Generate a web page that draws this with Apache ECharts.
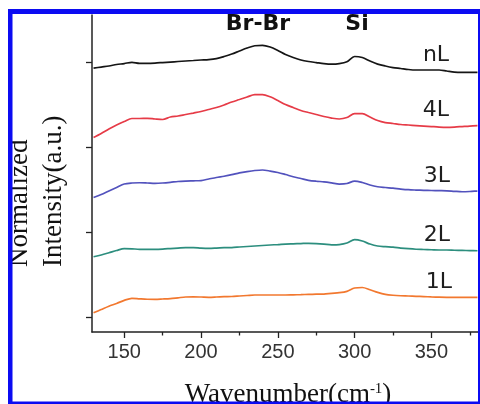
<!DOCTYPE html>
<html>
<head>
<meta charset="utf-8">
<script src="https://cdn.jsdelivr.net/npm/echarts@6/dist/echarts.min.js"></script>
<style>
  html, body { margin: 0; padding: 0; background: #ffffff; }
  #chart { width: 480px; height: 404px; }
</style>
</head>
<body>
<div id="chart"></div>
<script>
// Raman shift axis (cm^-1), shared by every spectrum
const wavenumbers = [
  130, 135, 140, 145, 150, 155, 160, 165, 170, 175,
  180, 185, 190, 195, 200, 205, 210, 215, 220, 225,
  230, 235, 240, 245, 250, 255, 260, 265, 270, 275,
  280, 285, 290, 295, 300, 305, 310, 315, 320, 325,
  330, 335, 340, 345, 350, 355, 360, 365, 370, 375, 380
];

// Normalized intensities, stacked with an offset per layer count
const spectrumNL = [
  2.935, 2.948, 2.960, 2.978, 2.989, 3.004, 2.992, 2.992, 2.995, 3.001,
  3.007, 3.013, 3.019, 3.025, 3.031, 3.036, 3.048, 3.072, 3.101, 3.137,
  3.172, 3.199, 3.204, 3.184, 3.143, 3.095, 3.060, 3.031, 3.013, 3.001,
  2.989, 2.983, 2.989, 3.011, 3.072, 3.060, 3.019, 2.983, 2.960, 2.942,
  2.931, 2.919, 2.913, 2.913, 2.913, 2.913, 2.901, 2.889, 2.886, 2.886, 2.886
];
const spectrum4L = [
  2.118, 2.165, 2.218, 2.265, 2.306, 2.342, 2.342, 2.344, 2.336, 2.330,
  2.359, 2.371, 2.389, 2.406, 2.424, 2.448, 2.471, 2.501, 2.536, 2.565,
  2.595, 2.624, 2.624, 2.598, 2.554, 2.506, 2.471, 2.436, 2.412, 2.389,
  2.365, 2.347, 2.336, 2.353, 2.400, 2.400, 2.359, 2.318, 2.294, 2.283,
  2.271, 2.265, 2.259, 2.253, 2.247, 2.241, 2.238, 2.241, 2.247, 2.253, 2.257
];
const spectrum3L = [
  1.411, 1.446, 1.488, 1.529, 1.570, 1.582, 1.585, 1.582, 1.578, 1.582,
  1.590, 1.600, 1.605, 1.608, 1.611, 1.629, 1.647, 1.662, 1.680, 1.702,
  1.717, 1.729, 1.735, 1.723, 1.706, 1.682, 1.656, 1.635, 1.614, 1.603,
  1.596, 1.584, 1.570, 1.576, 1.605, 1.588, 1.558, 1.538, 1.529, 1.521,
  1.511, 1.503, 1.499, 1.496, 1.494, 1.492, 1.490, 1.484, 1.479, 1.482, 1.488
];
const spectrum2L = [
  0.713, 0.734, 0.760, 0.787, 0.810, 0.807, 0.801, 0.801, 0.801, 0.804,
  0.810, 0.816, 0.822, 0.822, 0.816, 0.813, 0.816, 0.820, 0.822, 0.828,
  0.834, 0.840, 0.846, 0.852, 0.857, 0.863, 0.866, 0.869, 0.872, 0.869,
  0.863, 0.854, 0.857, 0.875, 0.916, 0.899, 0.863, 0.840, 0.832, 0.826,
  0.816, 0.808, 0.802, 0.799, 0.796, 0.793, 0.793, 0.790, 0.788, 0.786, 0.784
];
const spectrum1L = [
  0.053, 0.092, 0.131, 0.163, 0.200, 0.224, 0.218, 0.213, 0.212, 0.216,
  0.221, 0.230, 0.239, 0.241, 0.239, 0.236, 0.239, 0.243, 0.245, 0.251,
  0.257, 0.263, 0.263, 0.263, 0.263, 0.263, 0.265, 0.267, 0.270, 0.272,
  0.274, 0.283, 0.290, 0.306, 0.345, 0.351, 0.325, 0.294, 0.271, 0.260,
  0.254, 0.251, 0.247, 0.244, 0.240, 0.237, 0.236, 0.236, 0.236, 0.236, 0.236
];

const layerNames = ['nL', '4L', '3L', '2L', '1L'];
const peakNames = ['Br-Br', 'Si'];
const xTickValues = [150, 200, 250, 300, 350];
const xMinorTickValues = [175, 225, 275, 325, 375];
const yTickValues = [0, 1, 2, 3];

const spectra = [spectrumNL, spectrum4L, spectrum3L, spectrum2L, spectrum1L];
const lineColors = ['#151515', '#e63b47', '#5252bd', '#2c8e7e', '#f2782f'];

const toPairs = values => wavenumbers.map((w, i) => [w, values[i]]);

const axisColor = '#222222';
const X_MIN = 129, X_MAX = 381;

const chart = echarts.init(document.getElementById('chart'), null, { renderer: 'canvas' });

const series = spectra.map((values, i) => ({
  name: layerNames[i],
  type: 'line',
  xAxisIndex: 0,
  yAxisIndex: 0,
  data: toPairs(values),
  symbol: 'none',
  smooth: 0.3,
  lineStyle: { color: lineColors[i], width: 1.7 },
  animation: false
}));

const layerLabelPos = [[436, 55], [436, 110], [437, 176], [437, 235], [439, 282]];
const peakLabelPos = [[258, 24], [357, 24]];

const graphic = [];
layerNames.forEach((name, i) => {
  graphic.push({
    type: 'text', x: layerLabelPos[i][0], y: layerLabelPos[i][1], z: 20,
    style: {
      text: name, fill: '#1e1e1e', align: 'center', verticalAlign: 'middle',
      font: '22px "DejaVu Sans"'
    }
  });
});
peakNames.forEach((name, i) => {
  graphic.push({
    type: 'text', x: peakLabelPos[i][0], y: peakLabelPos[i][1], z: 20,
    style: {
      text: name, fill: '#111111', align: 'center', verticalAlign: 'middle',
      font: 'bold 22px "DejaVu Sans"'
    }
  });
});
// Y-axis title, two rotated lines sharing a start position
[['Normalized', 20], ['Intensity(a.u.)', 54]].forEach(([txt, cx]) => {
  graphic.push({
    type: 'text', x: cx, y: 267, rotation: Math.PI / 2, z: 20,
    style: {
      text: txt, fill: '#111111', align: 'left', verticalAlign: 'middle',
      font: '27px "Liberation Serif"'
    }
  });
});
// X-axis title with superscript
graphic.push({
  type: 'text', x: 288, y: 395, z: 20,
  style: {
    text: '{n|Wavenumber(cm}{s|-1}{n|)}',
    align: 'center', verticalAlign: 'middle',
    rich: {
      n: { fontFamily: 'Liberation Serif', fontSize: 27, fill: '#111111', color: '#111111' },
      s: { fontFamily: 'Liberation Serif', fontSize: 15, fill: '#111111', color: '#111111', verticalAlign: 'top' }
    }
  }
});
// Blue frame drawn over everything
const frameColor = '#0b0bf2';
[
  { x: 8, y: 9, width: 4.5, height: 395 },
  { x: 8, y: 9, width: 472, height: 5 },
  { x: 478, y: 9, width: 2, height: 395 },
  { x: 8, y: 401.5, width: 472, height: 2.5 }
].forEach(shape => {
  graphic.push({ type: 'rect', shape, z: 100, style: { fill: frameColor } });
});

chart.setOption({
  backgroundColor: '#ffffff',
  animation: false,
  grid: { left: 92, top: 15, width: 387, height: 317, containLabel: false },
  xAxis: [
    {
      type: 'value', min: X_MIN, max: X_MAX, position: 'bottom',
      axisLine: { show: true, onZero: false, lineStyle: { color: axisColor, width: 1.5 } },
      axisTick: { show: true, customValues: xTickValues, length: 6, lineStyle: { color: axisColor, width: 1.3 } },
      axisLabel: {
        show: true, customValues: xTickValues, margin: 10,
        fontFamily: 'Liberation Sans', fontSize: 20, color: '#333333'
      },
      splitLine: { show: false }
    },
    {
      type: 'value', min: X_MIN, max: X_MAX, position: 'bottom', offset: 0,
      axisLine: { show: false, onZero: false },
      axisTick: { show: true, customValues: xMinorTickValues, length: 3.5, lineStyle: { color: axisColor, width: 1.3 } },
      axisLabel: { show: false },
      splitLine: { show: false }
    }
  ],
  yAxis: {
    type: 'value', min: -0.173, max: 3.561,
    axisLine: { show: true, onZero: false, lineStyle: { color: axisColor, width: 1.5 } },
    axisTick: { show: true, customValues: yTickValues, length: 6, lineStyle: { color: axisColor, width: 1.3 } },
    axisLabel: { show: false },
    splitLine: { show: false }
  },
  series,
  graphic
});
</script>
</body>
</html>
